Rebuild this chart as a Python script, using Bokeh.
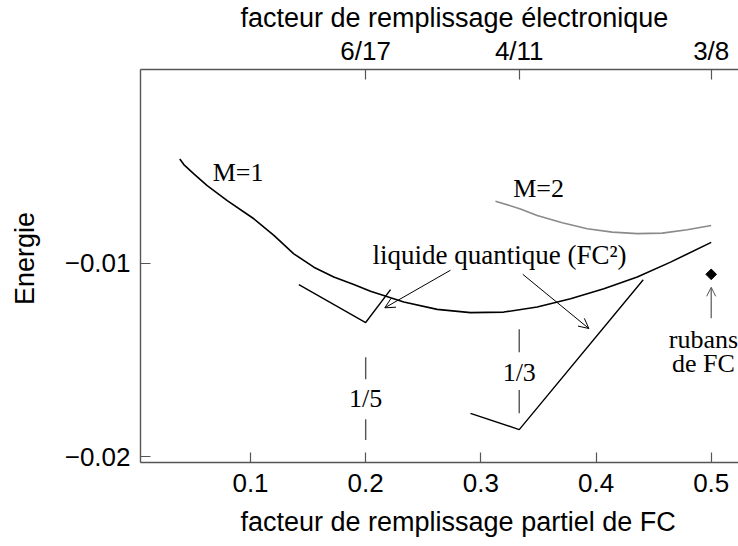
import math
from bokeh.plotting import figure
from bokeh.models import (Range1d, LinearAxis, FixedTicker, Arrow, OpenHead,
                          ColumnDataSource, Title)
from bokeh.core.properties import value
from bokeh.embed import file_html
from bokeh.resources import INLINE

# ---- data ----
m1_x = [0.0386, 0.0421, 0.0508, 0.0624, 0.0798, 0.1029, 0.1203, 0.1376, 0.1550, 0.1723,
        0.1897, 0.2042, 0.2331, 0.2621, 0.2910, 0.3199, 0.3489, 0.3779, 0.4068, 0.4358,
        0.4647, 0.5000]
m1_y = [-0.00462, -0.00491, -0.00539, -0.00600, -0.00677, -0.00771, -0.00857, -0.00952,
        -0.01021, -0.01072, -0.01110, -0.01146, -0.01201, -0.01239, -0.01256, -0.01253,
        -0.01227, -0.01184, -0.01132, -0.01072, -0.00995, -0.00893]

m2_x = [0.3127, 0.3344, 0.3489, 0.3707, 0.3924, 0.4141, 0.4358, 0.4575, 0.4792, 0.5000]
m2_y = [-0.00680, -0.00720, -0.00754, -0.00792, -0.00823, -0.00840, -0.00848, -0.00845,
        -0.00828, -0.00806]

fc2a_x = [0.1420, 0.2, 0.2216]
fc2a_y = [-0.01111, -0.01307, -0.01137]
fc2b_x = [0.2910, 1/3, 0.441]
fc2b_y = [-0.01776, -0.0186, -0.01086]

ribbon_x = [0.5]
ribbon_y = [-0.01058]

# dashed markers at 1/5 and 1/3
mark_x = [0.2, 0.2, 1/3, 1/3]
mark_y0 = [-0.01486, -0.01806, -0.01342, -0.01656]
mark_y1 = [-0.0160, -0.01914, -0.0146, -0.01775]
mark_lbl_x = [0.2, 1/3]
mark_lbl_y = [-0.01697, -0.01563]
mark_lbl = ["1/5", "1/3"]

# annotation arrows (liquide quantique)
arr_x0 = [0.2736, 0.3364]
arr_y0 = [-0.01037, -0.01058]
arr_x1 = [0.2166, 0.3938]
arr_y1 = [-0.01231, -0.01338]

x_ticks = [0.1, 0.2, 0.3, 0.4, 0.5]
y_ticks = [-0.02, -0.01]
top_ticks = [0.2, 1/3, 0.5]
top_labels = ["6/17", "4/11", "3/8"]

SANS = "Liberation Sans"
SERIF = "Liberation Serif"

p = figure(width=738, height=546, output_backend="svg", toolbar_location=None,
           x_range=Range1d(0.0045, 0.5237), y_range=Range1d(-0.0203, 0.0),
           min_border_left=140, min_border_right=0, min_border_top=69, min_border_bottom=83,
           x_axis_location=None, y_axis_location=None)
p.outline_line_color = None
p.grid.visible = False
p.background_fill_color = "white"
p.border_fill_color = "white"

AX = "#555555"

def style(ax):
    ax.axis_line_color = AX
    ax.axis_line_width = 1.4
    ax.major_tick_line_color = AX
    ax.major_tick_line_width = 1.2
    ax.major_tick_in = 10
    ax.major_tick_out = 0
    ax.minor_tick_line_color = None
    ax.major_label_text_font = SANS
    ax.major_label_text_font_size = "26px"
    ax.major_label_text_color = "black"

bottom = LinearAxis(ticker=FixedTicker(ticks=x_ticks))
style(bottom)
bottom.major_label_standoff = 11
p.add_layout(bottom, "below")

left = LinearAxis(ticker=FixedTicker(ticks=y_ticks))
style(left)
left.major_label_standoff = 10
left.major_label_overrides = {-0.02: "\u22120.02", -0.01: "\u22120.01"}
left.axis_label = "\u00a0\u00a0Energie"
left.axis_label_text_font = SANS
left.axis_label_text_font_size = "27px"
left.axis_label_text_font_style = "normal"
left.axis_label_text_color = "black"
left.axis_label_standoff = 22
p.add_layout(left, "left")

top = LinearAxis(ticker=FixedTicker(ticks=top_ticks))
style(top)
top.major_label_standoff = 4
top.major_label_overrides = {t: l for t, l in zip(top_ticks, top_labels)}
p.add_layout(top, "above")

p.add_layout(Title(text="facteur de remplissage \u00e9lectronique", align="left", offset=100,
                   text_font=SANS, text_font_size="27px", text_font_style="normal",
                   text_color="black", standoff=0), "above")
p.add_layout(Title(text="facteur de remplissage partiel de FC", align="left", offset=100,
                   text_font=SANS, text_font_size="27px", text_font_style="normal",
                   text_color="black", standoff=20), "below")

# curves
p.line(m1_x, m1_y, line_color="black", line_width=1.6)
p.line(m2_x, m2_y, line_color="#8a8a8a", line_width=1.6)
p.line(fc2a_x, fc2a_y, line_color="black", line_width=1.4)
p.line(fc2b_x, fc2b_y, line_color="black", line_width=1.4)

p.segment(x0=mark_x, y0=mark_y0, x1=mark_x, y1=mark_y1, line_color="#555555", line_width=1.4)

p.scatter(ribbon_x, ribbon_y, marker="square", angle=math.pi / 4, size=7.5,
          fill_color="black", line_color="black")

arr_src = ColumnDataSource(dict(x0=arr_x0, y0=arr_y0, x1=arr_x1, y1=arr_y1))
p.add_layout(Arrow(end=OpenHead(size=10, line_color="black", line_width=1),
                   x_start="x0", y_start="y0", x_end="x1", y_end="y1",
                   source=arr_src, line_color="black", line_width=1))
p.add_layout(Arrow(end=OpenHead(size=9, line_color="#555555", line_width=1),
                   x_start=0.5, y_start=-0.01285, x_end=0.5, y_end=-0.01125,
                   line_color="#555555", line_width=1.2))

# serif texts
p.text(x=mark_lbl_x, y=mark_lbl_y, text=mark_lbl, text_font=value(SERIF),
       text_font_size="26px", text_align="center", text_baseline="middle")
p.text(x=[0.0892, 0.3501, 0.4933, 0.4933],
       y=[-0.00531, -0.00617, -0.01393, -0.01517],
       text=["M=1", "M=2", "rubans", "de FC"],
       text_font=value(SERIF), text_font_size="26px",
       text_align="center", text_baseline="middle")
p.text(x=[0.3162], y=[-0.0096], text=["liquide quantique (FC\u00b2)"],
       text_font=value(SERIF), text_font_size="27px",
       text_align="center", text_baseline="middle")

open("out.html", "w").write(file_html(p, INLINE))
